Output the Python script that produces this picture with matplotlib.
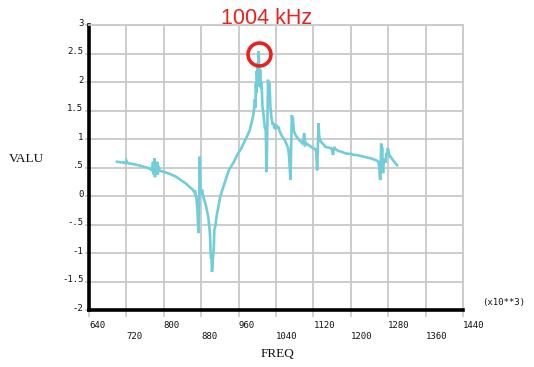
import matplotlib
matplotlib.use("Agg")
import matplotlib.pyplot as plt
from matplotlib.transforms import ScaledTranslation

freq = [700, 710, 718, 720, 722, 735, 750, 763, 772,
        775, 777, 778, 780, 781, 783, 784, 786, 787, 789, 791,
        798, 812, 826, 838, 847, 855, 861, 865, 867, 868, 870, 872, 874, 875, 876, 877, 878, 880,
        882, 884, 889, 893, 895, 897, 899, 900, 901, 902, 903, 904, 905, 906, 907, 908, 910, 913,
        917, 921, 925, 930, 935, 939, 944, 950, 957, 966, 974, 980, 984, 988, 991, 993, 995, 996,
        997, 998, 999, 1000, 1001, 1002, 1003, 1004, 1005, 1006, 1007, 1008, 1009, 1010, 1011,
        1013, 1014, 1016, 1018, 1019, 1020, 1021, 1022, 1023, 1024, 1026, 1027, 1028, 1030, 1031,
        1033, 1035, 1036, 1038, 1041, 1043, 1045, 1048, 1053, 1059, 1063, 1066, 1068, 1069, 1071,
        1072, 1073, 1074, 1075, 1076, 1078, 1080, 1084, 1087, 1091, 1094, 1097, 1099, 1100, 1101,
        1103, 1105, 1112, 1119, 1124, 1126, 1127, 1128, 1129, 1130, 1131, 1132, 1133, 1136, 1140,
        1146, 1152, 1158, 1160, 1162, 1163, 1165, 1167, 1174, 1182, 1188, 1195, 1201, 1206, 1212,
        1217, 1222, 1228, 1233, 1238, 1243, 1250, 1256, 1259, 1261, 1262, 1263, 1264, 1265, 1266,
        1267, 1268, 1269, 1270, 1272, 1274, 1276, 1278, 1279, 1281, 1283, 1285, 1290, 1295, 1299]
value = [0.60, 0.59, 0.58, 0.62, 0.58, 0.56, 0.53, 0.50, 0.47,
         0.45, 0.60, 0.38, 0.66, 0.33, 0.55, 0.40, 0.60, 0.37, 0.52, 0.44,
         0.43, 0.39, 0.34, 0.27, 0.22, 0.16, 0.12, 0.07, 0.10, 0.02, -0.05, -0.25, -0.65, -0.30, 0.10, 0.69, 0.20, 0.05,
         0.11, 0.00, -0.13, -0.28, -0.36, -0.50, -0.71, -0.95, -1.10, -1.05, -1.33, -1.25, -1.10, -1.00, -0.90, -0.60, -0.54, -0.35,
         -0.18, 0.00, 0.10, 0.23, 0.35, 0.45, 0.52, 0.60, 0.72, 0.84, 0.98, 1.08, 1.16, 1.30, 1.40, 1.51, 1.70, 1.55,
         1.98, 1.80, 2.20, 2.00, 2.34, 2.10, 2.54, 2.20, 1.92, 2.22, 1.95, 1.89, 2.00, 1.80, 1.57,
         1.45, 1.36, 1.20, 1.16, 0.80, 0.42, 1.00, 1.63, 2.04, 1.85, 1.98, 1.80, 1.57, 1.40, 1.34,
         1.25, 1.28, 1.20, 1.19, 1.25, 1.18, 1.22, 1.13, 1.05, 0.98, 0.90, 0.84, 0.70, 0.55, 0.28,
         0.70, 1.10, 1.42, 1.30, 1.38, 1.15, 1.10, 1.04, 1.01, 0.97, 0.95, 0.92, 0.98, 1.10, 1.02,
         0.90, 0.92, 0.88, 0.84, 0.82, 0.79, 0.60, 0.45, 0.70, 1.00, 1.28, 1.10, 1.02, 0.95, 0.92,
         0.86, 0.85, 0.84, 0.80, 0.72, 0.80, 0.86, 0.82, 0.79, 0.77, 0.75, 0.74, 0.74, 0.72, 0.72,
         0.71, 0.70, 0.69, 0.68, 0.67, 0.66, 0.64, 0.62, 0.60, 0.50, 0.35, 0.28, 0.55, 0.92, 0.70,
         0.85, 0.60, 0.40, 0.57, 0.65, 0.58, 0.75, 0.72, 0.84, 0.78, 0.69, 0.69, 0.63, 0.58, 0.54]

x_ticks = [640, 720, 800, 880, 960, 1040, 1120, 1200, 1280, 1360, 1440]
y_ticks = [-2, -1.5, -1, -0.5, 0, 0.5, 1, 1.5, 2, 2.5, 3]
y_labels = ["-2", "-1.5", "-1", "-.5", "0", ".5", "1", "1.5", "2", "2.5", "3"]
peak_freq = 1003
peak_value = 2.5
title_text = "1004 kHz"

grid_c = "#c8c8c8"
line_c = "#70CDD9"
mono = "DejaVu Sans Mono"

fig = plt.figure(figsize=(5.34, 3.67), dpi=100)
ax = fig.add_axes([89 / 534, 1 - 310 / 367, 374 / 534, 285 / 367])
ax.set_xlim(640, 1440)
ax.set_ylim(-2, 3)

ax.plot(freq, value, color=line_c, lw=1.9, solid_joinstyle="miter", zorder=3)
ax.plot([peak_freq], [peak_value], marker="o", ms=16.5, mfc="none", mec="#e8231f",
        mew=2.6, zorder=4, clip_on=False)

ax.grid(True, color=grid_c, lw=1.3)
ax.set_axisbelow(True)
for s in ("left", "bottom"):
    ax.spines[s].set_color("black")
    ax.spines[s].set_linewidth(2.6)
for s in ("top", "right"):
    ax.spines[s].set_color(grid_c)
    ax.spines[s].set_linewidth(1.3)

ax.set_xticks(x_ticks)
ax.set_xticklabels([str(v) if i % 2 == 0 else "\n" + str(v) for i, v in enumerate(x_ticks)],
                   fontfamily=mono, fontsize=6.5, ha="left")
ax.set_yticks(y_ticks)
ax.set_yticklabels(y_labels, fontfamily=mono, fontsize=6.5)
ax.tick_params(axis="x", direction="out", length=5, width=1.2, color=grid_c, pad=3,
               labelcolor="#111111")
ax.tick_params(axis="y", direction="out", length=3, width=1.2, color=grid_c, pad=1,
               labelcolor="#111111")
off = ScaledTranslation(0, 2 / 72, fig.dpi_scale_trans)
for lab in ax.get_yticklabels():
    lab.set_transform(lab.get_transform() + off)

fig.text(267 / 534, 1 - 18 / 367, title_text, color="#e8231f", fontsize=15.5,
         fontfamily="Liberation Sans", ha="center", va="center")
fig.text(26 / 534, 1 - 159 / 367, "VALU", fontsize=9.5, fontfamily="Liberation Serif",
         ha="center", va="center", color="#111111")
fig.text(277 / 534, 1 - 354 / 367, "FREQ", fontsize=9.5, fontfamily="Liberation Serif",
         ha="center", va="center", color="#111111")
fig.text(482 / 534, 1 - 303 / 367, "(x10**3)", fontsize=6.5, fontfamily=mono,
         ha="left", va="center", color="#111111")

fig.savefig("out.png", dpi=100)
